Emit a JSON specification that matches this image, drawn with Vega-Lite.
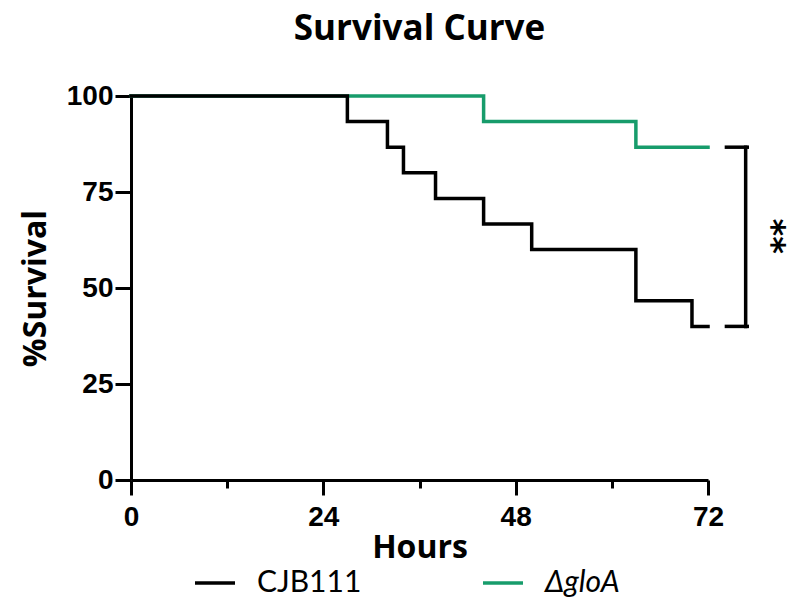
{
  "$schema": "https://vega.github.io/schema/vega-lite/v6.json",
  "autosize": {"type": "none"},
  "padding": {"left": 131, "top": 96, "right": 85, "bottom": 128},
  "width": 577,
  "height": 384,
  "background": "white",
  "title": {"text": "Survival Curve", "font": "Open Sans", "fontSize": 35, "fontWeight": "bold", "color": "black", "anchor": "middle", "offset": 35},
  "datasets": {
    "curves": [
      {"hours": 0, "survival": 100, "group": "ΔgloA"},
      {"hours": 44, "survival": 93.33, "group": "ΔgloA"},
      {"hours": 63, "survival": 86.67, "group": "ΔgloA"},
      {"hours": 72, "survival": 86.67, "group": "ΔgloA"},
      {"hours": 0, "survival": 100, "group": "CJB111"},
      {"hours": 27, "survival": 93.33, "group": "CJB111"},
      {"hours": 32, "survival": 86.67, "group": "CJB111"},
      {"hours": 34, "survival": 80, "group": "CJB111"},
      {"hours": 38, "survival": 73.33, "group": "CJB111"},
      {"hours": 44, "survival": 66.67, "group": "CJB111"},
      {"hours": 50, "survival": 60, "group": "CJB111"},
      {"hours": 63, "survival": 46.67, "group": "CJB111"},
      {"hours": 70, "survival": 40, "group": "CJB111"},
      {"hours": 72, "survival": 40, "group": "CJB111"}
    ],
    "bracket": [
      {"x": 76.7, "x2": 76.7, "y": 86.67, "y2": 40},
      {"x": 74.3, "x2": 76.9, "y": 86.67, "y2": 86.67},
      {"x": 74.3, "x2": 76.9, "y": 40, "y2": 40}
    ],
    "sig": [
      {"x": 79.9, "y": 63.5, "label": "**"}
    ]
  },
  "config": {
    "view": {"stroke": null},
    "axis": {
      "domainColor": "black", "domainWidth": 3, "tickColor": "black", "tickWidth": 3,
      "labelFont": "Liberation Sans", "labelFontWeight": "bold", "labelFontSize": 28, "labelColor": "black",
      "titleFont": "Open Sans", "titleFontWeight": "bold", "titleFontSize": 32, "titleColor": "black",
      "grid": false
    }
  },
  "layer": [
    {
      "data": {"name": "curves"},
      "transform": [{"filter": "datum.group === 'ΔgloA'"}],
      "mark": {"type": "line", "interpolate": "step-after", "strokeWidth": 3.5, "strokeCap": "square"},
      "encoding": {
        "x": {"field": "hours", "type": "quantitative",
          "scale": {"domain": [0, 72], "nice": false, "zero": true},
          "axis": {"title": "Hours", "values": [0, 12, 24, 36, 48, 60, 72],
            "labelExpr": "datum.value % 24 === 0 ? datum.label : ''",
            "tickSize": {"condition": {"test": "datum.value % 24 === 0", "value": 15}, "value": 8},
            "labelPadding": 8, "labelBound": false, "labelFlush": false, "titlePadding": 1}},
        "y": {"field": "survival", "type": "quantitative",
          "scale": {"domain": [0, 100], "nice": false},
          "axis": {"title": "%Survival", "values": [0, 25, 50, 75, 100], "tickSize": 16, "labelPadding": 2, "titlePadding": 14}},
        "color": {"field": "group", "type": "nominal",
          "scale": {"domain": ["CJB111", "ΔgloA"], "range": ["#000000", "#179c6b"]},
          "legend": {"title": null, "orient": "none", "direction": "horizontal", "legendX": 62, "legendY": 465,
            "symbolType": "stroke", "symbolSize": 1600, "symbolStrokeWidth": 3.5,
            "labelFont": "Lato", "labelFontSize": 30, "labelColor": "black", "labelOffset": 20,
            "columnPadding": 114, "labelLimit": 300,
            "encode": {"labels": {"update": {"fontStyle": {"signal": "datum.value === 'ΔgloA' ? 'italic' : 'normal'"}}}}}}
      }
    },
    {
      "data": {"name": "curves"},
      "transform": [{"filter": "datum.group === 'CJB111'"}],
      "mark": {"type": "line", "interpolate": "step-after", "strokeWidth": 3.5, "strokeCap": "square"},
      "encoding": {
        "x": {"field": "hours", "type": "quantitative"},
        "y": {"field": "survival", "type": "quantitative"},
        "color": {"field": "group", "type": "nominal"}
      }
    },
    {
      "data": {"name": "bracket"},
      "mark": {"type": "rule", "color": "black", "strokeWidth": 3.5, "strokeCap": "square"},
      "encoding": {
        "x": {"field": "x", "type": "quantitative"},
        "x2": {"field": "x2"},
        "y": {"field": "y", "type": "quantitative"},
        "y2": {"field": "y2"}
      }
    },
    {
      "data": {"name": "sig"},
      "mark": {"type": "text", "angle": 90, "font": "DejaVu Sans", "fontWeight": "bold", "fontSize": 34, "align": "center", "baseline": "middle", "color": "black"},
      "encoding": {
        "x": {"field": "x", "type": "quantitative"},
        "y": {"field": "y", "type": "quantitative"},
        "text": {"field": "label"}
      }
    }
  ]
}
